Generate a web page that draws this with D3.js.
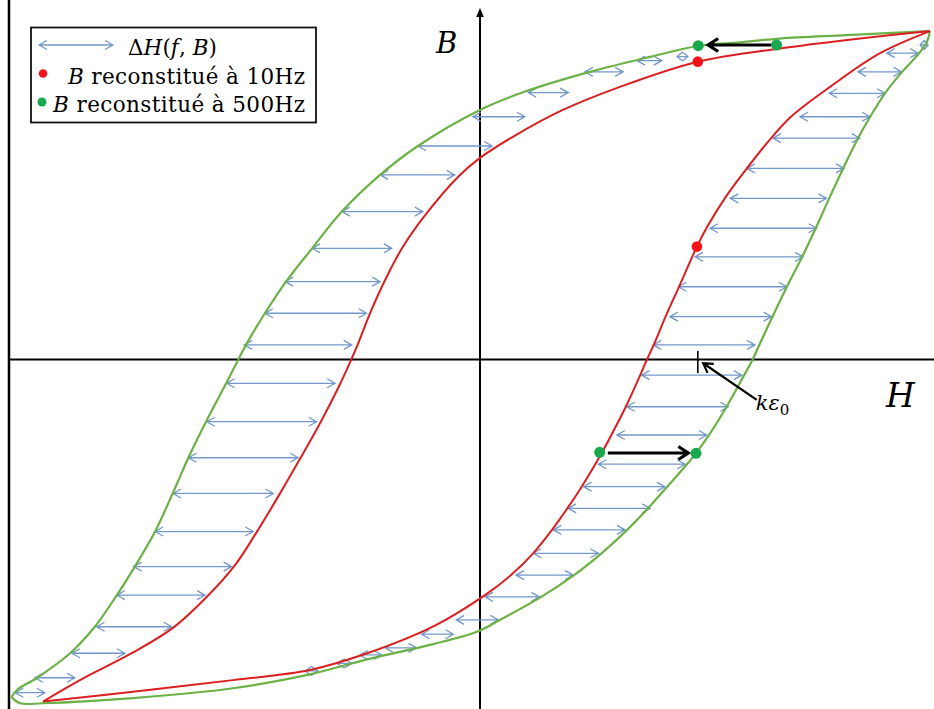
<!DOCTYPE html>
<html><head><meta charset="utf-8">
<script src="https://cdn.jsdelivr.net/npm/d3@7"></script>
<style>
body{margin:0;background:#fff}
svg{display:block}
text{font-family:"DejaVu Serif",serif;fill:#000}
</style>
</head><body>
<svg id="chart" width="934" height="709"></svg>
<script>
// ---------- data (normalised H, B) ----------
// 10 Hz loop (red)
const redDescending = [[1.000,0.966],[0.816,0.940],[0.667,0.915],[0.484,0.876],[0.311,0.802],[0.184,0.734],[0.073,0.655],[0.000,0.593],[-0.049,0.537],[-0.118,0.431],[-0.173,0.328],[-0.213,0.228],[-0.244,0.137],[-0.272,0.043],[-0.286,0.000],[-0.312,-0.075],[-0.354,-0.184],[-0.399,-0.290],[-0.444,-0.393],[-0.496,-0.507],[-0.544,-0.604],[-0.607,-0.698],[-0.680,-0.787],[-0.773,-0.863],[-0.889,-0.943],[-0.971,-1.006]];
const redAscending = [[-0.971,-1.006],[-0.771,-0.977],[-0.549,-0.943],[-0.378,-0.913],[-0.251,-0.864],[-0.098,-0.781],[0.011,-0.693],[0.069,-0.634],[0.118,-0.570],[0.160,-0.501],[0.194,-0.438],[0.226,-0.374],[0.268,-0.281],[0.292,-0.222],[0.324,-0.139],[0.356,-0.046],[0.371,0.000],[0.386,0.043],[0.414,0.131],[0.444,0.219],[0.482,0.332],[0.503,0.386],[0.544,0.474],[0.593,0.562],[0.647,0.651],[0.691,0.714],[0.778,0.802],[0.889,0.901],[1.000,0.966]];
// 500 Hz loop (green)
const greenDescending = [[1.000,0.966],[0.815,0.954],[0.667,0.944],[0.578,0.933],[0.484,0.922],[0.378,0.890],[0.244,0.846],[0.100,0.788],[0.000,0.734],[-0.138,0.628],[-0.222,0.543],[-0.307,0.435],[-0.373,0.327],[-0.431,0.229],[-0.478,0.136],[-0.520,0.043],[-0.537,0.000],[-0.562,-0.065],[-0.607,-0.178],[-0.647,-0.286],[-0.683,-0.394],[-0.722,-0.506],[-0.767,-0.609],[-0.807,-0.693],[-0.856,-0.786],[-0.911,-0.864],[-0.984,-0.936],[-1.029,-0.972],[-1.041,-0.993]];
const greenAscending = [[-1.041,-0.993],[-1.022,-1.011],[-0.971,-1.011],[-0.771,-0.996],[-0.549,-0.967],[-0.378,-0.926],[-0.251,-0.882],[-0.104,-0.837],[-0.004,-0.799],[0.044,-0.766],[0.136,-0.698],[0.209,-0.634],[0.270,-0.570],[0.327,-0.501],[0.373,-0.438],[0.416,-0.374],[0.460,-0.308],[0.480,-0.276],[0.509,-0.222],[0.548,-0.139],[0.587,-0.046],[0.606,0.000],[0.619,0.038],[0.650,0.126],[0.682,0.214],[0.716,0.302],[0.746,0.386],[0.776,0.474],[0.807,0.562],[0.840,0.651],[0.867,0.714],[0.900,0.783],[0.938,0.846],[0.976,0.901],[0.993,0.934],[1.000,0.966]];
// ΔH(f,B) arrows: level B, left end H, right end H
const arrowB  = [0.891,0.879,0.846,0.785,0.714,0.628,0.543,0.435,0.327,0.229,0.136,0.043,-0.070,-0.183,-0.289,-0.394,-0.506,-0.609,-0.693,-0.786,-0.864,-0.936,-0.980,-0.916,-0.894,-0.869,-0.848,-0.808,-0.766,-0.698,-0.634,-0.570,-0.501,-0.438,-0.374,-0.308,-0.222,-0.139,-0.046,0.043,0.126,0.214,0.302,0.386,0.474,0.562,0.651,0.714,0.783,0.846,0.901,0.925];
const arrowH0 = [0.438,0.349,0.233,0.107,-0.016,-0.138,-0.222,-0.307,-0.373,-0.433,-0.478,-0.524,-0.563,-0.607,-0.648,-0.682,-0.722,-0.770,-0.807,-0.852,-0.907,-0.989,-1.033,-0.389,-0.318,-0.267,-0.211,-0.130,-0.053,0.011,0.080,0.118,0.163,0.196,0.230,0.263,0.304,0.326,0.359,0.385,0.422,0.441,0.478,0.511,0.556,0.593,0.651,0.711,0.776,0.840,0.904,0.978];
const arrowH1 = [0.462,0.404,0.318,0.196,0.100,0.027,-0.056,-0.127,-0.196,-0.222,-0.252,-0.285,-0.322,-0.363,-0.404,-0.459,-0.504,-0.552,-0.611,-0.685,-0.789,-0.900,-0.967,-0.360,-0.285,-0.218,-0.141,-0.059,0.041,0.132,0.207,0.263,0.322,0.378,0.411,0.456,0.504,0.552,0.582,0.611,0.648,0.682,0.718,0.748,0.770,0.809,0.844,0.867,0.900,0.937,0.974,0.996];
// reconstructed points
const redPoints   = [[0.484,0.876],[0.482,0.332]];
const greenPoints = [[0.485,0.923],[0.659,0.925],[0.266,-0.273],[0.480,-0.276]];
// shift arrows [H start, B start, H end, B end]
const shiftArrows = [[0.648,0.925,0.507,0.925],[0.284,-0.275,0.463,-0.275]];
const kEpsArrow = [0.615,-0.119,0.496,-0.011];
const kEpsTick = [0.484,0.025,-0.040];
const legendLabels = ["ΔH(f, B)","B reconstitué à 10Hz","B reconstitué à 500Hz"];

// ---------- drawing ----------
const RED = "#db1f20", GREEN = "#6cb146", BLUE = "#7398cc", DOT_RED = "#f5121a", DOT_GREEN = "#1aa84f";
const svg = d3.select("#chart");
const x = d3.scaleLinear().domain([-1, 1]).range([30, 930]);
const y = d3.scaleLinear().domain([-1, 1]).range([699.5, 19.5]);
const line = d3.line().x(d => x(d[0])).y(d => y(d[1])).curve(d3.curveCatmullRom.alpha(0.5));

// frame / axes
svg.append("line").attr("x1", 9).attr("x2", 9).attr("y1", 0).attr("y2", 709).attr("stroke", "#000").attr("stroke-width", 2.5);
svg.append("line").attr("x1", 9).attr("x2", 934).attr("y1", y(0)).attr("y2", y(0)).attr("stroke", "#000").attr("stroke-width", 2);
svg.append("line").attr("x1", x(0)).attr("x2", x(0)).attr("y1", 709).attr("y2", 14).attr("stroke", "#000").attr("stroke-width", 2);
svg.append("path").attr("d", `M${x(0)},8 L${x(0)-3.8},17 L${x(0)+3.8},17 Z`).attr("fill", "#000");

function arrowPath(x1, y1, x2, y2, L, h) {
  const dx = x2 - x1, dy = y2 - y1, len = Math.hypot(dx, dy) || 1;
  const ux = dx / len, uy = dy / len, px = -uy, py = ux;
  return `M${x2 - ux*L + px*h},${y2 - uy*L + py*h} L${x2},${y2} L${x2 - ux*L - px*h},${y2 - uy*L - py*h}`;
}

// double arrows ΔH
const ga = svg.append("g").attr("fill", "none").attr("stroke", BLUE).attr("stroke-width", 1.3);
arrowB.forEach((b, i) => {
  const yy = y(b), x0 = x(arrowH0[i]), x1 = x(arrowH1[i]);
  const L = Math.min(8, (x1 - x0) / 2), h = 4.5;
  ga.append("path").attr("d",
    `M${x0},${yy} L${x1},${yy} ` + arrowPath(x1, yy, x0, yy, L, h) + " " + arrowPath(x0, yy, x1, yy, L, h));
});

// loops
[greenDescending, greenAscending].forEach(d =>
  svg.append("path").attr("d", line(d)).attr("fill", "none").attr("stroke", GREEN).attr("stroke-width", 2.2));
[redDescending, redAscending].forEach(d =>
  svg.append("path").attr("d", line(d)).attr("fill", "none").attr("stroke", RED).attr("stroke-width", 2));

// black shift arrows
shiftArrows.forEach(a => {
  const x1 = x(a[0]), y1 = y(a[1]), x2 = x(a[2]), y2 = y(a[3]);
  svg.append("path").attr("d", `M${x1},${y1} L${x2},${y2} ` + arrowPath(x1, y1, x2, y2, 10, 6.5))
    .attr("fill", "none").attr("stroke", "#000").attr("stroke-width", 3.2).attr("stroke-linejoin", "miter");
});
// k eps0 marker
svg.append("line").attr("x1", x(kEpsTick[0])).attr("x2", x(kEpsTick[0]))
  .attr("y1", y(kEpsTick[1])).attr("y2", y(kEpsTick[2])).attr("stroke", "#000").attr("stroke-width", 1.6);
{
  const x1 = x(kEpsArrow[0]), y1 = y(kEpsArrow[1]), x2 = x(kEpsArrow[2]), y2 = y(kEpsArrow[3]);
  svg.append("path").attr("d", `M${x1},${y1} L${x2},${y2} ` + arrowPath(x1, y1, x2, y2, 9, 5.5))
    .attr("fill", "none").attr("stroke", "#000").attr("stroke-width", 2.2);
}

// dots
svg.selectAll(".rd").data(redPoints).enter().append("circle")
  .attr("cx", d => x(d[0])).attr("cy", d => y(d[1])).attr("r", 5.3).attr("fill", DOT_RED);
svg.selectAll(".gd").data(greenPoints).enter().append("circle")
  .attr("cx", d => x(d[0])).attr("cy", d => y(d[1])).attr("r", 5.5).attr("fill", DOT_GREEN);

// axis labels
svg.append("text").attr("x", x(0) - 44).attr("y", 53).attr("font-size", 29).attr("font-style", "italic").text("B");
svg.append("text").attr("x", 886).attr("y", 407).attr("font-size", 33).attr("font-style", "italic").text("H");
{
  const t = svg.append("text").attr("x", x(kEpsArrow[0]) - 1).attr("y", 410).attr("font-size", 21);
  t.append("tspan").attr("font-style", "italic").text("kε");
  t.append("tspan").attr("font-size", 15).attr("dy", 5).text("0");
}

// legend
const lg = svg.append("g");
lg.append("rect").attr("x", 31).attr("y", 27.5).attr("width", 285).attr("height", 95)
  .attr("fill", "#fff").attr("stroke", "#111").attr("stroke-width", 1.8);
lg.append("path").attr("d", `M39,45 L113,45 ` + arrowPath(113, 45, 39, 45, 8, 4.5) + " " + arrowPath(39, 45, 113, 45, 8, 4.5))
  .attr("fill", "none").attr("stroke", BLUE).attr("stroke-width", 1.3);
{
  const t = lg.append("text").attr("x", 128).attr("y", 55).attr("font-size", 21.5)
    .attr("textLength", 89).attr("lengthAdjust", "spacing");
  const parts = [["Δ", "normal"], ["H", "italic"], ["(", "normal"], ["f", "italic"], [", ", "normal"], ["B", "italic"], [")", "normal"]];
  parts.forEach(p => t.append("tspan").attr("font-style", p[1]).text(p[0]));
}
lg.append("circle").attr("cx", 43).attr("cy", 73.5).attr("r", 4.3).attr("fill", DOT_RED);
lg.append("circle").attr("cx", 42).attr("cy", 102).attr("r", 4.5).attr("fill", DOT_GREEN);
[[68, 83.5, 237, legendLabels[1]], [53, 112, 252, legendLabels[2]]].forEach(r => {
  const t = lg.append("text").attr("x", r[0]).attr("y", r[1]).attr("font-size", 21.5)
    .attr("textLength", r[2]).attr("lengthAdjust", "spacing");
  t.append("tspan").attr("font-style", "italic").text(r[3].slice(0, 1));
  t.append("tspan").text(r[3].slice(1));
});
</script>
</body></html>
